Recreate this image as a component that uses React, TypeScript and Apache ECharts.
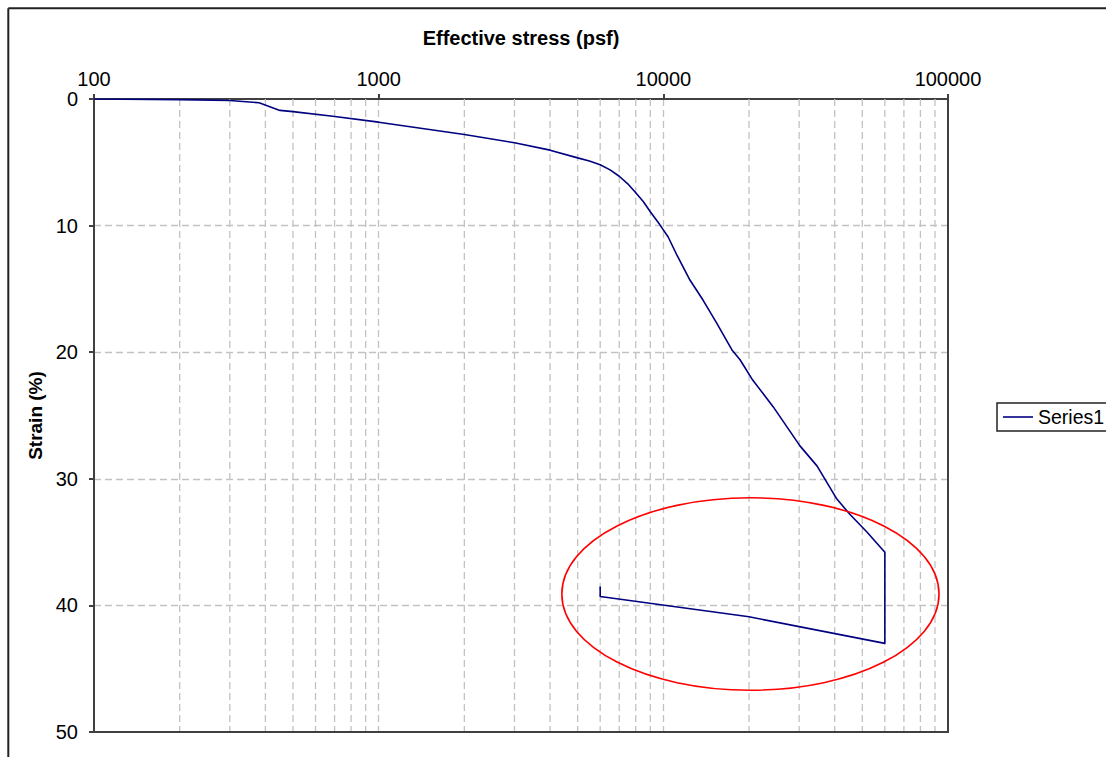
import React, { useEffect, useRef } from "react";
import * as echarts from "echarts";

// Consolidation test: effective stress (psf) vs. strain (%)
const stress = [
  100, 200, 300, 380, 450, 500, 690, 1000, 2000, 3000, 4000, 5000, 5500, 6000,
  6500, 7000, 7500, 8000, 8500, 9000, 9700, 10400, 11200, 12400, 13800, 15400,
  17400, 18600, 20600, 24300, 30200, 34700, 40700, 45200, 51900, 60000, 60000,
  20000, 6000, 6000,
];
const strain = [
  0, 0.05, 0.12, 0.3, 0.9, 1.0, 1.36, 1.83, 2.8, 3.46, 4.04, 4.65, 4.9, 5.2,
  5.6, 6.1, 6.7, 7.4, 8.1, 8.9, 9.9, 10.9, 12.4, 14.3, 15.9, 17.7, 19.8, 20.6,
  22.2, 24.3, 27.4, 29.0, 31.6, 32.8, 34.2, 35.8, 43.0, 40.9, 39.3, 38.5,
];

// Minor log grid lines (2..9 within each decade)
const minorStress = [
  200, 300, 400, 500, 600, 700, 800, 900,
  2000, 3000, 4000, 5000, 6000, 7000, 8000, 9000,
  20000, 30000, 40000, 50000, 60000, 70000, 80000, 90000,
];

// Highlighted unload/reload region, in data units
const highlightStress = [4400, 93000];
const highlightStrain = [31.5, 46.7];

const seriesName = "Series1";
const xTitle = "Effective stress (psf)";
const yTitle = "Strain (%)";

const FONT = "'Liberation Sans', Arial, sans-serif";
const GRID_DASH = [7, 4];
const GRID_COLOR = "#c2c2c2";
const FRAME_COLOR = "#404040";

export default function App() {
  const ref = useRef<HTMLDivElement>(null);

  useEffect(() => {
    if (!ref.current) return;
    const chart = echarts.init(ref.current, null, { renderer: "svg" });

    const points = stress.map((s, i) => [s, strain[i]]);

    chart.setOption({
      animation: false,
      backgroundColor: "#ffffff",
      textStyle: { fontFamily: FONT, color: "#000" },
      grid: {
        left: 94,
        top: 99,
        width: 854,
        height: 633,
        show: false,
      },
      legend: {
        data: [{ name: seriesName, icon: "rect" }],
        left: 997,
        top: 403,
        padding: [4, 14, 4, 6],
        itemWidth: 30,
        itemHeight: 1.6,
        borderColor: "#222",
        borderWidth: 1.5,
        backgroundColor: "#fff",
        textStyle: { fontSize: 19.5, color: "#000", fontFamily: FONT },
      },
      xAxis: {
        type: "log",
        logBase: 10,
        min: 100,
        max: 100000,
        position: "top",
        name: xTitle,
        nameLocation: "middle",
        nameGap: 51,
        nameTextStyle: { fontSize: 20, fontWeight: "bold", color: "#000" },
        axisLine: { show: true, lineStyle: { color: FRAME_COLOR, width: 2 } },
        axisTick: { show: true, inside: false, length: 5, lineStyle: { color: FRAME_COLOR, width: 2 } },
        axisLabel: {
          fontSize: 20,
          color: "#000",
          margin: 10,
          formatter: (v: number) => String(Math.round(v)),
        },
        splitLine: {
          show: true,
          showMinLine: false,
          showMaxLine: false,
          lineStyle: { color: GRID_COLOR, type: GRID_DASH, width: 1.3 },
        },
      },
      yAxis: {
        type: "value",
        inverse: true,
        min: 0,
        max: 50,
        interval: 10,
        name: yTitle,
        nameLocation: "middle",
        nameGap: 46,
        nameRotate: 90,
        nameTextStyle: { fontSize: 19, fontWeight: "bold", color: "#000" },
        axisLine: { show: true, lineStyle: { color: FRAME_COLOR, width: 2 } },
        axisTick: { show: true, inside: false, length: 5, lineStyle: { color: FRAME_COLOR, width: 2 } },
        axisLabel: { fontSize: 20, color: "#000", margin: 16 },
        splitLine: {
          show: true,
          showMinLine: false,
          showMaxLine: false,
          lineStyle: { color: GRID_COLOR, type: GRID_DASH, width: 1.3 },
        },
      },
      series: [
        {
          type: "custom",
          name: "minorGrid",
          silent: true,
          z: 1,
          data: minorStress.map((s) => [s, 0]),
          renderItem: (params: any, api: any) => {
            const x = api.coord([api.value(0), 0])[0];
            const cs = params.coordSys;
            return {
              type: "line",
              shape: { x1: x, y1: cs.y, x2: x, y2: cs.y + cs.height },
              style: { stroke: GRID_COLOR, lineWidth: 1.3, lineDash: GRID_DASH },
            };
          },
        },
        {
          type: "line",
          name: seriesName,
          data: points,
          symbol: "none",
          showSymbol: false,
          z: 3,
          lineStyle: { color: "#000080", width: 1.6 },
          itemStyle: { color: "#000080" },
        },
      ],
    });

    const p0 = chart.convertToPixel({ gridIndex: 0 }, [highlightStress[0], highlightStrain[0]]);
    const p1 = chart.convertToPixel({ gridIndex: 0 }, [highlightStress[1], highlightStrain[1]]);
    const tl = chart.convertToPixel({ gridIndex: 0 }, [100, 0]);
    const br = chart.convertToPixel({ gridIndex: 0 }, [100000, 50]);

    chart.setOption({
      graphic: [
        // page border (left and top)
        {
          type: "line",
          shape: { x1: 8.3, y1: 8.3, x2: 8.3, y2: 757 },
          style: { stroke: "#222", lineWidth: 2 },
          z: 10,
        },
        {
          type: "line",
          shape: { x1: 8.3, y1: 8.3, x2: 1106, y2: 8.3 },
          style: { stroke: "#222", lineWidth: 2 },
          z: 10,
        },
        // plot frame (right and bottom)
        {
          type: "polyline",
          shape: { points: [[br[0], tl[1]], [br[0], br[1]], [tl[0], br[1]]] },
          style: { stroke: FRAME_COLOR, lineWidth: 2, fill: "none" },
          z: 10,
        },
        {
          type: "ellipse",
          shape: {
            cx: (p0[0] + p1[0]) / 2,
            cy: (p0[1] + p1[1]) / 2,
            rx: Math.abs(p1[0] - p0[0]) / 2,
            ry: Math.abs(p1[1] - p0[1]) / 2,
          },
          style: { fill: "none", stroke: "#ff0000", lineWidth: 1.6 },
          z: 10,
        },
      ],
    });

    return () => chart.dispose();
  }, []);

  return (
    <div
      ref={ref}
      style={{ position: "fixed", left: 0, top: 0, width: 1106, height: 757 }}
    />
  );
}
